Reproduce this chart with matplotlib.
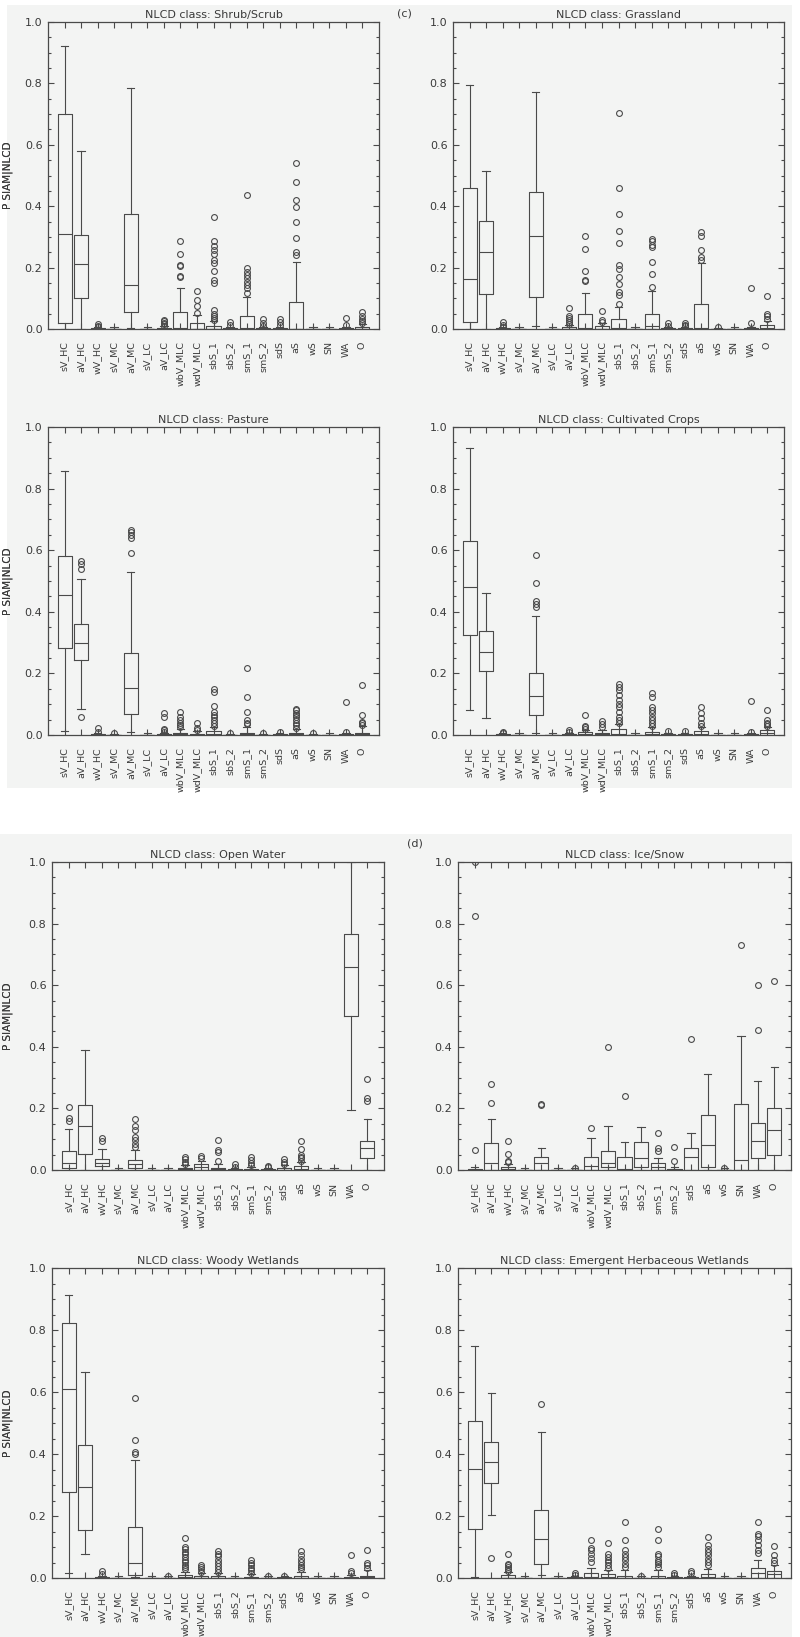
import matplotlib
matplotlib.use("Agg")
import matplotlib.pyplot as plt
from matplotlib.patches import Rectangle
from matplotlib.ticker import MultipleLocator, FormatStrFormatter

categories = ["sV_HC", "aV_HC", "wV_HC", "sV_MC", "aV_MC", "sV_LC", "aV_LC",
              "wbV_MLC", "wdV_MLC", "sbS_1", "sbS_2", "smS_1", "smS_2", "sdS",
              "aS", "wS", "SN", "WA", "O"]

# ---------------- Shrub/Scrub ----------------
shrub_q1 = [0.02, 0.10, 0, 0, 0.054, 0, 0, 0, 0, 0, 0, 0, 0, 0, 0, 0, 0, 0, 0]
shrub_med = [0.31, 0.211, 0, 0, 0.144, 0, 0, 0.002, 0.001, 0.001, 0, 0.002, 0, 0, 0.001, 0, 0, 0, 0.001]
shrub_q3 = [0.699, 0.306, 0.002, 0, 0.374, 0, 0.003, 0.054, 0.02, 0.011, 0.002, 0.041, 0.002, 0.002, 0.088, 0, 0, 0.002, 0.005]
shrub_lo = [0, 0, 0, 0, 0.003, 0, 0, 0, 0, 0, 0, 0, 0, 0, 0, 0, 0, 0, 0]
shrub_hi = [0.922, 0.58, 0.005, 0.006, 0.785, 0.006, 0.01, 0.133, 0.045, 0.027, 0.008, 0.103, 0.006, 0.006, 0.217, 0.007, 0.007, 0.006, 0.015]
shrub_out = [[], [], [0.016, 0.01, 0.007], [], [], [], [0.03, 0.025, 0.02, 0.015, 0.01],
             [0.288, 0.245, 0.209, 0.204, 0.173, 0.168], [0.125, 0.095, 0.074, 0.052],
             [0.366, 0.288, 0.269, 0.258, 0.245, 0.225, 0.215, 0.19, 0.16, 0.15, 0.063, 0.05, 0.041, 0.036, 0.03],
             [0.022, 0.014], [0.437, 0.198, 0.187, 0.177, 0.166, 0.152, 0.142, 0.132, 0.117],
             [0.033, 0.02, 0.011], [0.033, 0.022, 0.014],
             [0.542, 0.48, 0.42, 0.397, 0.347, 0.296, 0.252, 0.242], [], [], [0.036, 0.014],
             [0.055, 0.041, 0.033, 0.025, 0.02]]

# ---------------- Grassland ----------------
grass_q1 = [0.023, 0.113, 0, 0, 0.105, 0, 0, 0, 0, 0, 0, 0, 0, 0, 0, 0, 0, 0, 0]
grass_med = [0.163, 0.251, 0, 0, 0.304, 0, 0.001, 0.003, 0.001, 0.002, 0, 0.011, 0, 0, 0.002, 0, 0, 0, 0.004]
grass_q3 = [0.459, 0.353, 0.002, 0, 0.445, 0, 0.006, 0.05, 0.011, 0.033, 0, 0.05, 0.002, 0.002, 0.083, 0, 0, 0.002, 0.012]
grass_lo = [0, 0, 0, 0, 0.011, 0, 0, 0, 0, 0, 0, 0, 0, 0, 0, 0, 0, 0, 0]
grass_hi = [0.795, 0.516, 0.005, 0.005, 0.772, 0.005, 0.012, 0.117, 0.018, 0.072, 0.005, 0.125, 0.006, 0.006, 0.215, 0.004, 0.005, 0.008, 0.027]
grass_out = [[], [], [0.022, 0.014, 0.007], [], [], [], [0.067, 0.043, 0.036, 0.03, 0.023, 0.017],
             [0.302, 0.259, 0.19, 0.161, 0.155], [0.058, 0.028, 0.022],
             [0.702, 0.458, 0.376, 0.318, 0.28, 0.207, 0.196, 0.17, 0.145, 0.12, 0.112, 0.082],
             [], [0.293, 0.286, 0.275, 0.267, 0.218, 0.18, 0.137], [0.02, 0.011], [0.02, 0.014, 0.009],
             [0.315, 0.304, 0.257, 0.235, 0.226], [0.007], [], [0.133, 0.02], [0.107, 0.05, 0.041, 0.034]]

# ---------------- Pasture ----------------
past_q1 = [0.283, 0.245, 0, 0, 0.067, 0, 0, 0, 0, 0, 0, 0, 0, 0, 0, 0, 0, 0, 0]
past_med = [0.455, 0.30, 0, 0, 0.154, 0, 0, 0.002, 0.001, 0.002, 0, 0.002, 0, 0, 0.002, 0, 0, 0, 0.002]
past_q3 = [0.58, 0.36, 0.002, 0, 0.267, 0, 0.003, 0.008, 0.004, 0.013, 0, 0.008, 0, 0.002, 0.008, 0, 0, 0.002, 0.008]
past_lo = [0.013, 0.083, 0, 0, 0.009, 0, 0, 0, 0, 0, 0, 0, 0, 0, 0, 0, 0, 0, 0]
past_hi = [0.857, 0.505, 0.005, 0.004, 0.53, 0.005, 0.008, 0.02, 0.012, 0.025, 0.004, 0.025, 0.004, 0.005, 0.02, 0.004, 0.005, 0.005, 0.028]
past_out = [[], [0.565, 0.555, 0.54, 0.057], [0.024, 0.011], [0.008], [0.665, 0.66, 0.65, 0.64, 0.59], [],
            [0.072, 0.06, 0.02, 0.015, 0.01], [0.076, 0.06, 0.049, 0.04, 0.032, 0.027], [0.038, 0.022, 0.016],
            [0.148, 0.14, 0.094, 0.076, 0.065, 0.057, 0.049, 0.04, 0.029], [0.005],
            [0.218, 0.122, 0.074, 0.049, 0.04, 0.035], [0.006], [0.01],
            [0.086, 0.081, 0.072, 0.065, 0.057, 0.049, 0.04, 0.032, 0.024], [0.005], [], [0.106, 0.011],
            [0.162, 0.065, 0.043, 0.038, 0.032]]

# ---------------- Cultivated Crops ----------------
crop_q1 = [0.324, 0.208, 0, 0, 0.065, 0, 0, 0, 0, 0, 0, 0, 0, 0, 0, 0, 0, 0, 0]
crop_med = [0.48, 0.27, 0, 0, 0.126, 0, 0, 0.002, 0.002, 0.003, 0, 0.002, 0, 0, 0.002, 0, 0, 0, 0.005]
crop_q3 = [0.631, 0.338, 0.002, 0, 0.20, 0, 0.002, 0.01, 0.008, 0.02, 0, 0.01, 0.002, 0.002, 0.012, 0, 0, 0.002, 0.015]
crop_lo = [0.082, 0.055, 0, 0, 0.005, 0, 0, 0, 0, 0, 0, 0, 0, 0, 0, 0, 0, 0, 0]
crop_hi = [0.932, 0.46, 0.005, 0.005, 0.385, 0.005, 0.008, 0.015, 0.015, 0.035, 0.005, 0.025, 0.008, 0.008, 0.025, 0.005, 0.005, 0.005, 0.025]
crop_out = [[], [], [0.01, 0.006], [], [0.585, 0.495, 0.435, 0.425, 0.415], [], [0.015, 0.01],
            [0.065, 0.03, 0.025, 0.02], [0.045, 0.035, 0.025],
            [0.165, 0.155, 0.145, 0.13, 0.115, 0.1, 0.09, 0.075, 0.06, 0.05, 0.04], [],
            [0.135, 0.125, 0.09, 0.08, 0.07, 0.06, 0.05, 0.04, 0.03], [0.012], [0.012],
            [0.09, 0.07, 0.055, 0.04, 0.03], [], [], [0.11, 0.01], [0.08, 0.05, 0.04, 0.035, 0.03]]

# ---------------- Open Water ----------------
water_q1 = [0.008, 0.052, 0.013, 0, 0.008, 0, 0, 0, 0, 0, 0, 0, 0, 0, 0, 0, 0, 0.50, 0.038]
water_med = [0.022, 0.143, 0.024, 0, 0.019, 0, 0, 0.002, 0.011, 0.002, 0, 0.001, 0, 0.001, 0.003, 0, 0, 0.66, 0.072]
water_q3 = [0.063, 0.211, 0.036, 0, 0.032, 0, 0, 0.006, 0.018, 0.008, 0.002, 0.004, 0.002, 0.006, 0.013, 0, 0, 0.765, 0.095]
water_lo = [0, 0, 0, 0, 0, 0, 0, 0, 0, 0, 0, 0, 0, 0, 0, 0, 0, 0.195, 0]
water_hi = [0.132, 0.39, 0.067, 0.005, 0.065, 0.005, 0.005, 0.015, 0.03, 0.02, 0.008, 0.01, 0.006, 0.015, 0.025, 0.005, 0.005, 1.0, 0.165]
water_out = [[0.203, 0.168, 0.159], [], [0.103, 0.095], [], [0.164, 0.143, 0.13, 0.106, 0.097, 0.083, 0.076],
             [], [], [0.043, 0.035, 0.027, 0.019], [0.045, 0.038], [0.099, 0.065, 0.059, 0.029],
             [0.019, 0.011], [0.041, 0.032, 0.024, 0.016], [0.013, 0.009], [0.035, 0.027, 0.019],
             [0.095, 0.067, 0.049, 0.043, 0.038, 0.029], [], [], [], [0.294, 0.235, 0.224]]

# ---------------- Ice/Snow ----------------
ice_q1 = [0, 0, 0, 0, 0, 0, 0, 0, 0.009, 0, 0.009, 0, 0, 0, 0.009, 0, 0, 0.038, 0.049]
ice_med = [0.001, 0.022, 0.002, 0, 0.022, 0, 0, 0.013, 0.024, 0.003, 0.038, 0.011, 0.001, 0.043, 0.081, 0, 0.032, 0.095, 0.13]
ice_q3 = [0.003, 0.089, 0.009, 0, 0.041, 0, 0, 0.043, 0.063, 0.041, 0.092, 0.022, 0.004, 0.07, 0.178, 0, 0.213, 0.154, 0.2]
ice_lo = [0, 0, 0, 0, 0, 0, 0, 0, 0, 0, 0, 0, 0, 0, 0, 0, 0, 0, 0]
ice_hi = [0.01, 0.165, 0.02, 0.005, 0.072, 0.005, 0.005, 0.103, 0.144, 0.092, 0.138, 0.038, 0.011, 0.121, 0.311, 0.005, 0.435, 0.289, 0.333]
ice_out = [[1.0, 0.824, 0.065], [0.279, 0.219], [0.095, 0.052, 0.03, 0.025], [], [0.214, 0.211], [],
           [0.005], [0.135], [0.40], [0.24], [], [0.119, 0.07, 0.063], [0.076, 0.03], [0.425], [],
           [0.005], [0.732], [0.455, 0.60], [0.615]]

# ---------------- Woody Wetlands ----------------
woody_q1 = [0.277, 0.154, 0, 0, 0.011, 0, 0, 0, 0, 0, 0, 0, 0, 0, 0, 0, 0, 0, 0]
woody_med = [0.609, 0.294, 0, 0, 0.049, 0, 0, 0.002, 0.001, 0.001, 0, 0.001, 0, 0, 0.001, 0, 0, 0, 0.002]
woody_q3 = [0.824, 0.43, 0.002, 0, 0.165, 0, 0, 0.009, 0.005, 0.005, 0, 0.004, 0, 0.002, 0.006, 0, 0, 0.004, 0.008]
woody_lo = [0.017, 0.078, 0, 0, 0.003, 0, 0, 0, 0, 0, 0, 0, 0, 0, 0, 0, 0, 0, 0]
woody_hi = [0.914, 0.665, 0.006, 0.005, 0.382, 0.005, 0.006, 0.02, 0.015, 0.015, 0.005, 0.012, 0.006, 0.006, 0.02, 0.005, 0.005, 0.01, 0.025]
woody_out = [[], [], [0.023, 0.012], [], [0.582, 0.445, 0.405, 0.40], [], [0.006],
             [0.129, 0.1, 0.092, 0.084, 0.076, 0.068, 0.059, 0.052, 0.043, 0.035, 0.028],
             [0.043, 0.035, 0.028, 0.019], [0.087, 0.078, 0.07, 0.059, 0.048, 0.038, 0.028, 0.019], [],
             [0.057, 0.048, 0.041, 0.033, 0.025, 0.017], [0.006], [0.008],
             [0.087, 0.073, 0.062, 0.052, 0.043, 0.035, 0.028], [], [], [0.075, 0.023, 0.016],
             [0.091, 0.049, 0.041, 0.033]]

# ---------------- Emergent Herbaceous Wetlands ----------------
emerg_q1 = [0.157, 0.308, 0, 0, 0.046, 0, 0, 0, 0, 0, 0, 0, 0, 0, 0, 0, 0, 0, 0]
emerg_med = [0.353, 0.374, 0.001, 0, 0.127, 0, 0, 0.003, 0.002, 0.001, 0, 0.001, 0, 0, 0.002, 0, 0, 0.017, 0.014]
emerg_q3 = [0.506, 0.44, 0.009, 0, 0.218, 0, 0.002, 0.016, 0.012, 0.008, 0, 0.008, 0.002, 0.002, 0.014, 0, 0, 0.033, 0.022]
emerg_lo = [0.003, 0.202, 0, 0, 0.011, 0, 0, 0, 0, 0, 0, 0, 0, 0, 0, 0, 0, 0, 0]
emerg_hi = [0.749, 0.597, 0.02, 0.005, 0.47, 0.005, 0.008, 0.033, 0.025, 0.025, 0.006, 0.025, 0.008, 0.008, 0.03, 0.005, 0.005, 0.057, 0.041]
emerg_out = [[], [0.066], [0.078, 0.046, 0.041, 0.035, 0.03, 0.023], [], [0.562], [], [0.015, 0.01],
             [0.124, 0.097, 0.089, 0.078, 0.066, 0.052], [0.113, 0.076, 0.068, 0.059, 0.052, 0.041, 0.033],
             [0.181, 0.124, 0.089, 0.078, 0.068, 0.057, 0.046, 0.035], [0.008],
             [0.159, 0.124, 0.076, 0.07, 0.059, 0.052, 0.044, 0.035], [0.015, 0.01], [0.022, 0.015],
             [0.132, 0.105, 0.095, 0.084, 0.073, 0.062, 0.052, 0.041], [], [],
             [0.181, 0.143, 0.134, 0.122, 0.108, 0.089, 0.081], [0.102, 0.075, 0.057, 0.048]]

titles = ["NLCD class: Shrub/Scrub", "NLCD class: Grassland", "NLCD class: Pasture",
          "NLCD class: Cultivated Crops", "NLCD class: Open Water", "NLCD class: Ice/Snow",
          "NLCD class: Woody Wetlands", "NLCD class: Emergent Herbaceous Wetlands"]
group_labels = ["(c)", "(d)"]
ylabel = "P SIAM|NLCD"

panels = [
    (shrub_q1, shrub_med, shrub_q3, shrub_lo, shrub_hi, shrub_out),
    (grass_q1, grass_med, grass_q3, grass_lo, grass_hi, grass_out),
    (past_q1, past_med, past_q3, past_lo, past_hi, past_out),
    (crop_q1, crop_med, crop_q3, crop_lo, crop_hi, crop_out),
    (water_q1, water_med, water_q3, water_lo, water_hi, water_out),
    (ice_q1, ice_med, ice_q3, ice_lo, ice_hi, ice_out),
    (woody_q1, woody_med, woody_q3, woody_lo, woody_hi, woody_out),
    (emerg_q1, emerg_med, emerg_q3, emerg_lo, emerg_hi, emerg_out),
]

W, H = 800, 1637
BG = "#f3f4f3"
LC = "#4a4a4a"
TC = "#3a3a3a"

fig = plt.figure(figsize=(W / 100, H / 100), dpi=100, facecolor="white")

def px_rect(x0, y0, x1, y1):
    return [x0 / W, 1 - y1 / H, (x1 - x0) / W, (y1 - y0) / H]

# gray backgrounds of the two groups
for (x0, y0, x1, y1) in [(7, 5, 792, 788), (0, 834, 792, 1637)]:
    r = px_rect(x0, y0, x1, y1)
    fig.patches.append(Rectangle((r[0], r[1]), r[2], r[3], transform=fig.transFigure,
                                 facecolor=BG, edgecolor="none", zorder=-5))

axes_px = [
    (48, 22, 379, 329), (453, 22, 784, 329),
    (48, 427, 379, 735), (453, 427, 784, 735),
    (52, 862, 384, 1170), (458, 862, 791, 1170),
    (52, 1268, 384, 1578), (458, 1268, 791, 1578),
]

positions = list(range(1, len(categories) + 1))

for i, (box, title, data) in enumerate(zip(axes_px, titles, panels)):
    q1, med, q3, lo, hi, out = data
    ax = fig.add_axes(px_rect(*box))
    ax.set_facecolor(BG)
    stats = []
    for k in range(len(categories)):
        stats.append(dict(q1=q1[k], med=med[k], q3=q3[k], whislo=lo[k], whishi=hi[k],
                          fliers=out[k], label=categories[k]))
    lw = 0.8
    ax.bxp(stats, positions=positions, widths=0.85, capwidths=0.45, showfliers=True,
           manage_ticks=False,
           boxprops=dict(color=LC, linewidth=lw),
           whiskerprops=dict(color=LC, linewidth=lw),
           capprops=dict(color=LC, linewidth=lw),
           medianprops=dict(color=LC, linewidth=lw),
           flierprops=dict(marker="o", markersize=4.2, markerfacecolor="none",
                           markeredgecolor=LC, markeredgewidth=0.8, linestyle="none"))
    ax.set_xlim(0, len(categories) + 1)
    ax.set_ylim(0, 1.0)
    ax.set_xticks(positions)
    ax.set_xticklabels(categories, rotation=90, fontsize=6.8, color=TC, va="top")
    ax.yaxis.set_major_locator(MultipleLocator(0.2))
    ax.yaxis.set_minor_locator(MultipleLocator(0.05))
    ax.yaxis.set_major_formatter(FormatStrFormatter("%.1f"))
    ax.tick_params(axis="x", direction="in", top=True, bottom=True, length=4,
                   width=0.8, color=LC, pad=9)
    ax.tick_params(axis="y", which="major", direction="in", left=True, right=True,
                   length=4.5, width=0.8, color=LC, labelsize=8, labelcolor=TC, pad=4)
    ax.tick_params(axis="y", which="minor", direction="in", left=True, right=True,
                   length=2.5, width=0.8, color=LC)
    for s in ax.spines.values():
        s.set_color(LC)
        s.set_linewidth(0.9)
    ax.set_title(title, fontsize=8, color=TC, pad=3)
    ax.set_ylabel(ylabel, fontsize=7.5, color=TC)
    ax.yaxis.set_label_coords((13 - box[0]) / (box[2] - box[0]), 0.5)

fig.text(404 / W, 1 - 13 / H, group_labels[0], fontsize=8, color=TC, ha="center", va="center")
fig.text(415 / W, 1 - 843 / H, group_labels[1], fontsize=8, color=TC, ha="center", va="center")

fig.savefig("out.png", dpi=100, facecolor="white")
